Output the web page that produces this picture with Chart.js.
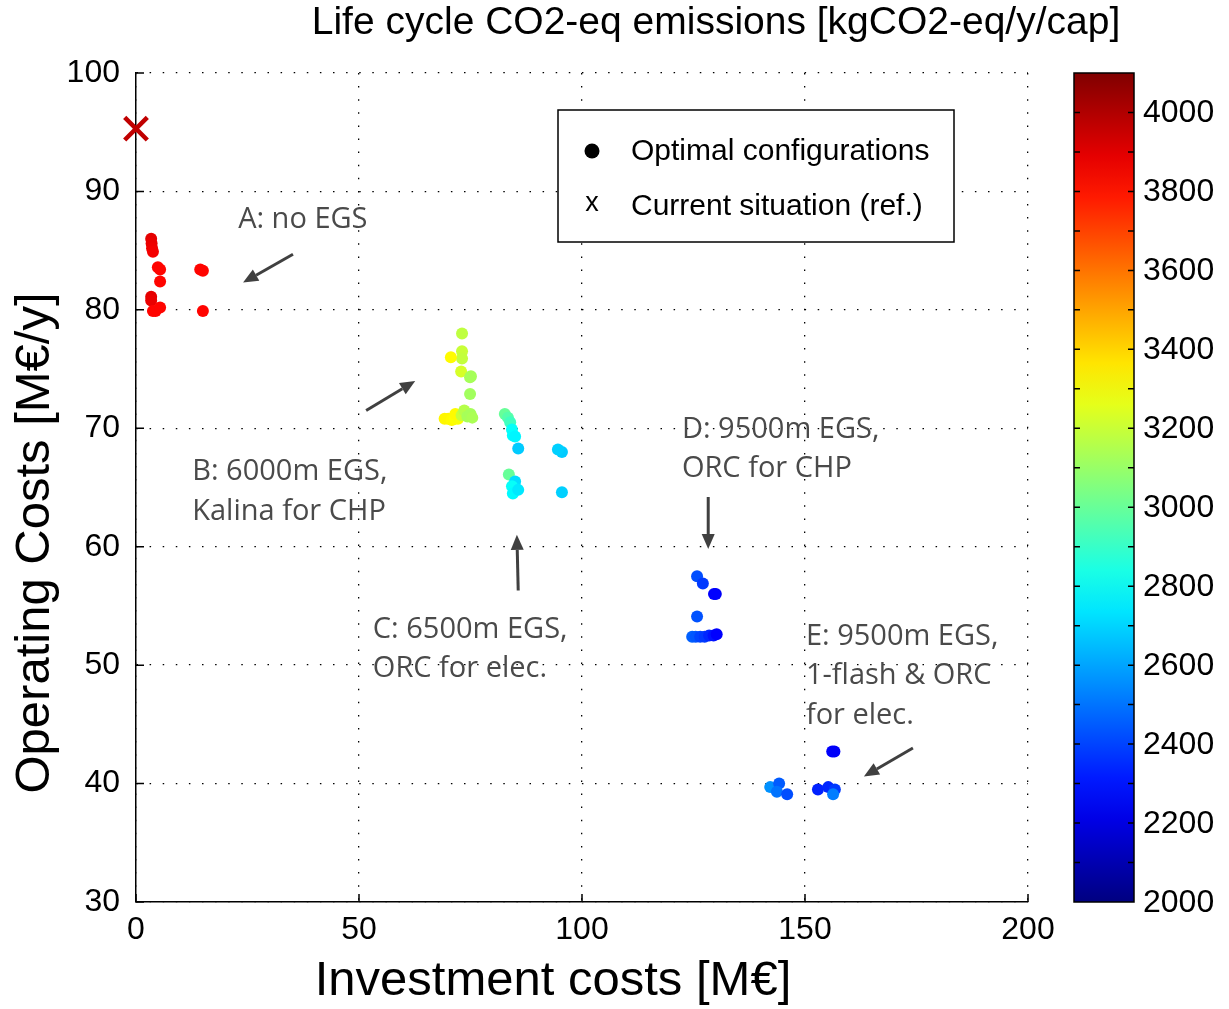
<!DOCTYPE html>
<html>
<head>
<meta charset="utf-8">
<script src="https://cdn.jsdelivr.net/npm/chart.js@4.4.0/dist/chart.umd.min.js"></script>
<style>
  html, body { margin: 0; padding: 0; background: #fff; }
  canvas { display: block; }
</style>
</head>
<body>
<canvas id="chart" width="1229" height="1009"></canvas>
<script>
// Optimal configurations: investment [M€], operating [M€/y], CO2 [kgCO2-eq/y/cap]
var invCost = [
  3.4, 3.5, 3.6, 3.8, 4.9, 5.4, 5.4, 3.4, 3.4, 3.8, 4.4, 5.4, 14.4, 15.0, 15.0,
  73.1, 73.1, 73.1, 70.6, 72.9, 74.9, 75.1, 74.9,
  69.2, 70.0, 70.8, 71.5, 72.2, 71.6, 73.0, 73.6, 74.3, 75.0, 75.4,
  82.7, 83.4, 83.9, 84.3, 84.5, 85.0, 85.7, 95.5, 94.6, 83.6, 85.0, 84.3, 84.5, 85.7, 95.5,
  125.8, 127.1, 130.0, 129.6, 125.8, 124.7, 125.5, 126.5, 127.5, 128.5, 129.5, 130.2,
  156.1, 156.6, 142.2, 144.2, 143.7, 146.0, 152.9, 155.2, 156.7, 156.3
];
var opCost = [
  86.0, 85.6, 85.2, 84.9, 83.6, 83.4, 82.4, 81.1, 80.8, 79.9, 79.9, 80.2, 83.4, 83.3, 79.9,
  78.0, 76.5, 75.9, 76.0, 74.8, 74.3, 74.4, 72.9,
  70.8, 70.8, 70.7, 70.8, 70.8, 71.2, 71.1, 71.5, 71.0, 71.2, 70.9,
  71.2, 70.9, 70.5, 69.9, 69.4, 69.3, 68.3, 68.0, 68.2, 66.1, 65.5, 65.1, 64.5, 64.8, 64.6,
  57.5, 56.9, 56.0, 56.0, 54.1, 52.4, 52.4, 52.4, 52.4, 52.5, 52.5, 52.6,
  42.7, 42.7, 39.7, 40.0, 39.3, 39.1, 39.5, 39.7, 39.5, 39.1
];
var co2 = [
  3890, 3880, 3870, 3860, 3830, 3830, 3830, 3890, 3880, 3830, 3830, 3830, 3830, 3830, 3830,
  3180, 3200, 3190, 3320, 3230, 3130, 3130, 3120,
  3330, 3330, 3320, 3310, 3300, 3320, 3200, 3160, 3130, 3130, 3140,
  3000, 2960, 2920, 2800, 2790, 2770, 2680, 2680, 2690, 3000, 2720, 2800, 2780, 2740, 2690,
  2420, 2380, 2250, 2260, 2430, 2460, 2440, 2400, 2380, 2340, 2300, 2260,
  2260, 2250, 2560, 2450, 2500, 2420, 2330, 2340, 2380, 2520
];

// current situation (reference)
var refInv = [0];
var refOp = [95.3];

var xTicks = [0, 50, 100, 150, 200];
var yTicks = [30, 40, 50, 60, 70, 80, 90, 100];
var cbarTicks = [2000, 2200, 2400, 2600, 2800, 3000, 3200, 3400, 3600, 3800, 4000];
var cbarMin = 2000, cbarMax = 4100;

// annotation labels (data coords: left x, centre y)
var notes = [
  { x: 22.9, y: 87.6, lines: ['A: no EGS'] },
  { x: 12.6, y: 66.3, lines: ['B: 6000m EGS,', 'Kalina for CHP'] },
  { x: 53.1, y: 53.0, lines: ['C: 6500m EGS,', 'ORC for elec.'] },
  { x: 122.4, y: 69.9, lines: ['D: 9500m EGS,', 'ORC for CHP'] },
  { x: 150.2, y: 52.4, lines: ['E: 9500m EGS,', '1-flash & ORC', 'for elec.'] }
];
// arrows [x0, y0, x1, y1] in data coords, tip at the end
var arrows = [
  [35.2, 84.7, 24.0, 82.3],
  [51.6, 71.5, 62.6, 74.0],
  [85.7, 56.3, 85.4, 61.0],
  [128.3, 64.2, 128.3, 59.8],
  [174.2, 43.0, 163.2, 40.6]
];

function clamp(v) { return Math.max(0, Math.min(1, v)); }
function jet(v) {
  var t = (v - cbarMin) / (cbarMax - cbarMin);
  var r = clamp(1.5 - Math.abs(4 * t - 3));
  var g = clamp(1.5 - Math.abs(4 * t - 2));
  var b = clamp(1.5 - Math.abs(4 * t - 1));
  return 'rgb(' + Math.round(r * 255) + ',' + Math.round(g * 255) + ',' + Math.round(b * 255) + ')';
}

var points = invCost.map(function (x, i) { return { x: x, y: opCost[i] }; });
var refPoints = refInv.map(function (x, i) { return { x: x, y: refOp[i] }; });

var sans = '"Liberation Sans", Arial, sans-serif';

var extras = {
  id: 'extras',
  afterDraw: function (chart) {
    var ctx = chart.ctx;
    var xs = chart.scales.x, ys = chart.scales.y;
    var area = chart.chartArea;
    ctx.save();

    // inward ticks
    ctx.strokeStyle = '#000';
    ctx.lineWidth = 1.5;
    ctx.beginPath();
    xTicks.forEach(function (v) {
      var px = xs.getPixelForValue(v);
      ctx.moveTo(px, area.bottom);
      ctx.lineTo(px, area.bottom - 8);
    });
    yTicks.forEach(function (v) {
      var py = ys.getPixelForValue(v);
      ctx.moveTo(area.left, py);
      ctx.lineTo(area.left + 8, py);
    });
    ctx.stroke();

    // arrows
    ctx.strokeStyle = '#404040';
    ctx.fillStyle = '#404040';
    ctx.lineWidth = 3;
    arrows.forEach(function (a) {
      var x0 = xs.getPixelForValue(a[0]), y0 = ys.getPixelForValue(a[1]);
      var x1 = xs.getPixelForValue(a[2]), y1 = ys.getPixelForValue(a[3]);
      var ang = Math.atan2(y1 - y0, x1 - x0);
      var hl = 15, hw = 6.5;
      var bx = x1 - hl * Math.cos(ang), by = y1 - hl * Math.sin(ang);
      ctx.beginPath();
      ctx.moveTo(x0, y0);
      ctx.lineTo(bx, by);
      ctx.stroke();
      ctx.beginPath();
      ctx.moveTo(x1, y1);
      ctx.lineTo(bx + hw * Math.sin(ang), by - hw * Math.cos(ang));
      ctx.lineTo(bx - hw * Math.sin(ang), by + hw * Math.cos(ang));
      ctx.closePath();
      ctx.fill();
    });

    // annotation text
    ctx.fillStyle = '#4a4a4a';
    ctx.font = '29px "Open Sans", sans-serif';
    ctx.textAlign = 'left';
    ctx.textBaseline = 'middle';
    notes.forEach(function (n) {
      var px = xs.getPixelForValue(n.x), py = ys.getPixelForValue(n.y);
      n.lines.forEach(function (line, i) {
        ctx.fillText(line, px, py + i * 39.5);
      });
    });

    // legend
    ctx.fillStyle = '#fff';
    ctx.fillRect(558, 110, 396, 132);
    ctx.strokeStyle = '#000';
    ctx.lineWidth = 1.5;
    ctx.strokeRect(558, 110, 396, 132);
    ctx.fillStyle = '#000';
    ctx.beginPath();
    ctx.arc(592, 151, 7.5, 0, Math.PI * 2);
    ctx.fill();
    ctx.font = '27px ' + sans;
    ctx.textAlign = 'center';
    ctx.fillText('x', 592, 204);
    ctx.textAlign = 'left';
    ctx.font = '30px ' + sans;
    ctx.fillText('Optimal configurations', 631, 152);
    ctx.fillText('Current situation (ref.)', 631, 207);

    // title and axis titles
    ctx.font = '39px ' + sans;
    ctx.textAlign = 'center';
    ctx.fillText('Life cycle CO2-eq emissions [kgCO2-eq/y/cap]', 716, 23);
    ctx.font = '49px ' + sans;
    ctx.fillText('Investment costs [M€]', 553, 981);
    ctx.save();
    ctx.translate(35, 543);
    ctx.rotate(-Math.PI / 2);
    ctx.fillText('Operating Costs [M€/y]', 0, 0);
    ctx.restore();

    // colour bar
    var cx = 1074, cw = 60, ct = 73, cb = 902;
    var grad = ctx.createLinearGradient(0, cb, 0, ct);
    for (var s = 0; s <= 20; s++) {
      grad.addColorStop(s / 20, jet(cbarMin + (cbarMax - cbarMin) * s / 20));
    }
    ctx.fillStyle = grad;
    ctx.fillRect(cx, ct, cw, cb - ct);
    ctx.strokeStyle = '#000';
    ctx.lineWidth = 1.5;
    ctx.strokeRect(cx, ct, cw, cb - ct);
    function cpy(v) { return cb - (v - cbarMin) / (cbarMax - cbarMin) * (cb - ct); }
    ctx.beginPath();
    for (var v = cbarMin + 100; v < cbarMax; v += 100) {
      var py = cpy(v);
      ctx.moveTo(cx, py); ctx.lineTo(cx + 6, py);
      ctx.moveTo(cx + cw, py); ctx.lineTo(cx + cw - 6, py);
    }
    ctx.stroke();
    ctx.fillStyle = '#000';
    ctx.font = '32px ' + sans;
    ctx.textAlign = 'left';
    cbarTicks.forEach(function (v) {
      ctx.fillText(String(v), 1143, cpy(v) + 1);
    });

    ctx.restore();
  }
};

new Chart(document.getElementById('chart'), {
  type: 'scatter',
  data: {
    datasets: [{
      label: 'Optimal configurations',
      data: points,
      backgroundColor: co2.map(jet),
      borderWidth: 0,
      pointRadius: 6,
      pointHoverRadius: 6
    }, {
      label: 'Current situation (ref.)',
      data: refPoints,
      pointStyle: 'crossRot',
      borderColor: '#c00000',
      borderWidth: 4.5,
      pointRadius: 16,
      pointHoverRadius: 16,
      clip: false
    }]
  },
  plugins: [extras],
  options: {
    responsive: false,
    devicePixelRatio: 1,
    animation: false,
    layout: { padding: { left: 0, top: 73, right: 201, bottom: 0 } },
    plugins: {
      legend: { display: false },
      tooltip: { enabled: false }
    },
    scales: {
      x: {
        type: 'linear',
        min: 0, max: 200,
        afterFit: function (s) { s.height = 107; },
        afterBuildTicks: function (s) { s.ticks = xTicks.map(function (v) { return { value: v }; }); },
        ticks: { color: '#000', font: { family: sans, size: 32 }, padding: 9 },
        grid: { color: '#000', lineWidth: 1.3, drawTicks: false },
        border: { display: true, color: '#000', width: 1.5, dash: [1.5, 11.6] }
      },
      y: {
        type: 'linear',
        min: 30, max: 100,
        afterFit: function (s) { s.width = 136; },
        afterBuildTicks: function (s) { s.ticks = yTicks.map(function (v) { return { value: v }; }); },
        ticks: { color: '#000', font: { family: sans, size: 32 }, padding: 16 },
        grid: { color: '#000', lineWidth: 1.3, drawTicks: false },
        border: { display: true, color: '#000', width: 1.5, dash: [1.5, 11.6] }
      }
    }
  }
});
</script>
</body>
</html>
